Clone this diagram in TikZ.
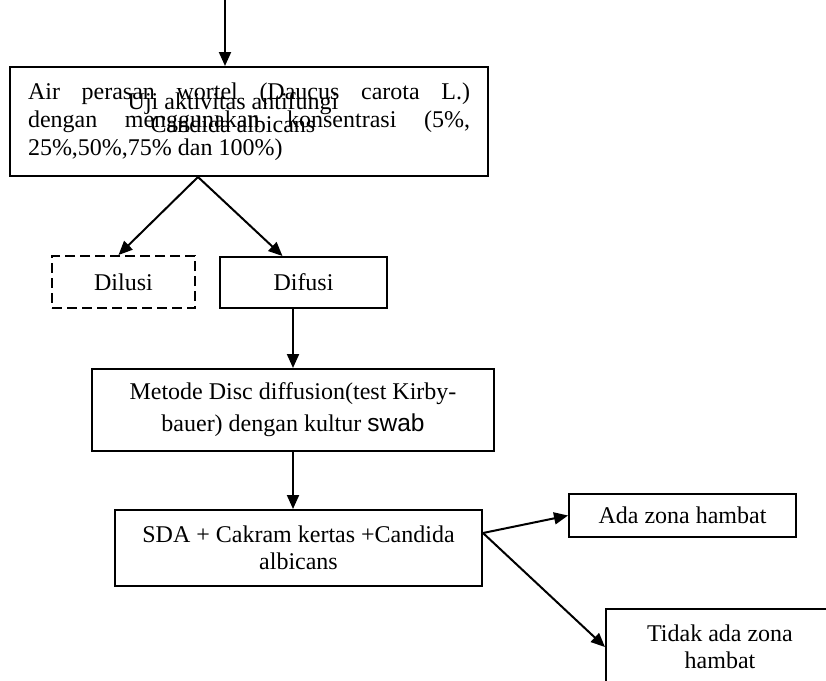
\documentclass[tikz,border=0pt]{standalone}
\usepackage{fontspec}
\setmainfont{Liberation Serif}
\newfontfamily\swabfont{Liberation Sans}
\usetikzlibrary{arrows.meta}
\tikzset{box/.style={draw,line width=2pt,inner sep=0pt,align=center,
  font=\fontsize{24}{28}\selectfont},
  dashbox/.style={box,dash pattern=on 10pt off 5pt},
  arrow/.style={-{Triangle[length=14pt,width=12pt]},line width=2pt}}

\begin{document}
\begin{tikzpicture}[x=1pt,y=-1pt]
\path[use as bounding box,clip] (0,0) rectangle (826,680);
\node[box,minimum width=478pt,minimum height=109pt,text width=442pt,align=justify] (air) at (249,121.5)
{Air perasan wortel (Daucus carota L.)\linebreak dengan menggunakan konsentrasi (5\%,\linebreak 25\%,50\%,75\% dan 100\%)};
\node[font=\fontsize{24}{18}\selectfont,align=center,inner sep=0pt] (uji) at (233,113)
{Uji aktivitas antifungi\\Candida albicans};
\node[dashbox,minimum width=143pt,minimum height=52pt] (dilusi) at (123.5,282) {Dilusi};
\node[box,minimum width=167pt,minimum height=51pt] (difusi) at (303.5,282.5) {Difusi};
\node[box,minimum width=402pt,minimum height=82pt,font=\fontsize{24}{32}\selectfont] (metode) at (293,410)
{Metode Disc diffusion(test Kirby-\\bauer) dengan kultur {\swabfont\fontsize{24.5}{32}\selectfont swab}};
\node[box,minimum width=367pt,minimum height=76pt,font=\fontsize{24}{27}\selectfont] (sda) at (298.5,548)
{SDA + Cakram kertas +Candida\\albicans};
\node[box,minimum width=227pt,minimum height=43pt] (ada) at (682.5,515.5) {Ada zona hambat};
\node[box,minimum width=228pt,minimum height=76pt,font=\fontsize{24}{27}\selectfont] (tidak) at (720,647)
{Tidak ada zona\\hambat};
\coordinate (atas) at (225,0);
\draw[arrow] (atas) -- (atas |- air.north);
\draw[arrow] ([xshift=-51pt]air.south) -- ([xshift=-5pt]dilusi.north);
\draw[arrow] ([xshift=-51pt]air.south) -- ([xshift=-21pt]difusi.north);
\draw[arrow] (difusi.south -| metode.north) -- (metode.north);
\draw[arrow] (metode.south) -- (metode.south |- sda.north);
\draw[arrow] ([yshift=15pt]sda.east) -- (ada.west);
\draw[arrow] ([yshift=15pt]sda.east) -- (tidak.west);
\end{tikzpicture}
\end{document}
